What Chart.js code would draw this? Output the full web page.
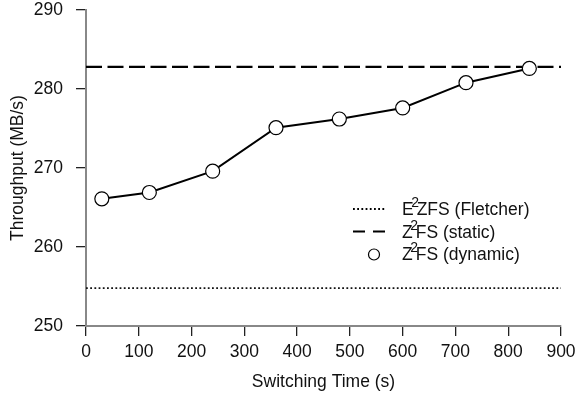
<!DOCTYPE html>
<html><head><meta charset="utf-8">
<script src="https://cdn.jsdelivr.net/npm/chart.js@4/dist/chart.umd.min.js"></script>
<style>html,body{margin:0;padding:0;background:#fff}#wrap{width:577px;height:394px}</style>
</head><body><div id="wrap"><canvas id="c" width="577" height="394"></canvas></div>
<script>
// ---- data ----
const switchingTimes = [30, 120, 240, 360, 480, 600, 720, 840];
const dynamicThroughput = [266.1, 266.9, 269.6, 275.1, 276.2, 277.6, 280.8, 282.6];
const baselineSpan = [0, 900];
const staticThroughput = [282.8, 282.8];
const fletcherThroughput = [254.8, 254.8];
const seriesLabels = ['E²ZFS (Fletcher)', 'Z²FS (static)', 'Z²FS (dynamic)'];
const xAxisRange = [0, 900, 100];
const yAxisRange = [250, 290, 10];
const xTitle = 'Switching Time (s)';
const yTitle = 'Throughput (MB/s)';

const FONT = '"Liberation Sans", Arial, Helvetica, sans-serif';
const toPts = (xs, ys) => xs.map((x, i) => ({x: x, y: ys[i]}));

const legendPlugin = {
  id: 'customLegend',
  afterDraw(chart) {
    const ctx = chart.ctx;
    const rows = [209, 231.5, 254];
    const ds = chart.data.datasets;
    ctx.save();
    ds.forEach((d, i) => {
      const y = rows[i];
      ctx.strokeStyle = '#000';
      if (d.pointRadius > 0) {
        ctx.beginPath();
        ctx.setLineDash([]);
        ctx.lineWidth = 1.2;
        ctx.fillStyle = '#fff';
        ctx.arc(374, y + 0.5, 5.5, 0, Math.PI * 2);
        ctx.fill();
        ctx.stroke();
      } else {
        ctx.beginPath();
        ctx.lineWidth = d.borderWidth;
        ctx.setLineDash(d.legendDash);
        ctx.moveTo(353, y);
        ctx.lineTo(386, y);
        ctx.stroke();
      }
      ctx.setLineDash([]);
      // label with superscript
      const parts = d.label.split('²');
      const base = y + 6.2;
      const x = 402;
      ctx.fillStyle = '#111';
      ctx.textBaseline = 'alphabetic';
      ctx.textAlign = 'left';
      ctx.font = '17.5px ' + FONT;
      ctx.fillText(parts[0], x, base);
      const w0 = ctx.measureText(parts[0]).width;
      ctx.font = '14px ' + FONT;
      ctx.fillText('2', x + w0 - 2.5, base - 8);
      ctx.font = '17.5px ' + FONT;
      ctx.fillText(parts[1], x + w0 + 3, base);
    });
    ctx.restore();
  }
};

function noPad(s) { s.paddingTop = 0; s.paddingBottom = 0; s.paddingLeft = 0; s.paddingRight = 0; }

new Chart(document.getElementById('c'), {
  type: 'line',
  data: {
    datasets: [
      {
        label: seriesLabels[0],
        data: toPts(baselineSpan, fletcherThroughput),
        borderColor: '#111', borderWidth: 1.8, borderDash: [1.8, 2.4], legendDash: [1.8, 2.4],
        pointRadius: 0, fill: false, order: 2
      },
      {
        label: seriesLabels[1],
        data: toPts(baselineSpan, staticThroughput),
        borderColor: '#000', borderWidth: 2.2, borderDash: [16, 5.5], legendDash: [12, 8],
        pointRadius: 0, fill: false, order: 1
      },
      {
        label: seriesLabels[2],
        data: toPts(switchingTimes, dynamicThroughput),
        borderColor: '#000', borderWidth: 2, tension: 0,
        pointRadius: 7, pointBackgroundColor: '#fff', pointBorderColor: '#000', pointBorderWidth: 1.2,
        fill: false, order: 0
      }
    ]
  },
  options: {
    responsive: false, animation: false, devicePixelRatio: 1,
    layout: {padding: {top: 10, right: 16, left: 0, bottom: 0}},
    plugins: {legend: {display: false}, tooltip: {enabled: false}},
    scales: {
      x: {
        type: 'linear', min: xAxisRange[0], max: xAxisRange[1],
        afterFit(s) { s.height = 68; noPad(s); },
        ticks: {stepSize: xAxisRange[2], color: '#111', font: {family: FONT, size: 17.5}, padding: 6, maxRotation: 0},
        grid: {drawOnChartArea: false, drawTicks: true, tickLength: 10, color: '#222', lineWidth: 1.3},
        border: {color: '#888', width: 2},
        title: {display: true, text: xTitle, color: '#111', font: {family: FONT, size: 17.5}, padding: {top: 0, bottom: 1.5}}
      },
      y: {
        type: 'linear', min: yAxisRange[0], max: yAxisRange[1],
        afterFit(s) { s.width = 86; noPad(s); },
        ticks: {stepSize: yAxisRange[2], color: '#111', font: {family: FONT, size: 17.5}, padding: 13},
        grid: {drawOnChartArea: false, drawTicks: true, tickLength: 10, color: '#222', lineWidth: 1.3},
        border: {color: '#888', width: 2},
        title: {display: true, text: yTitle, color: '#111', font: {family: FONT, size: 17.5}, padding: {top: 7.5, bottom: 0}}
      }
    }
  },
  plugins: [legendPlugin]
});
</script></body></html>
